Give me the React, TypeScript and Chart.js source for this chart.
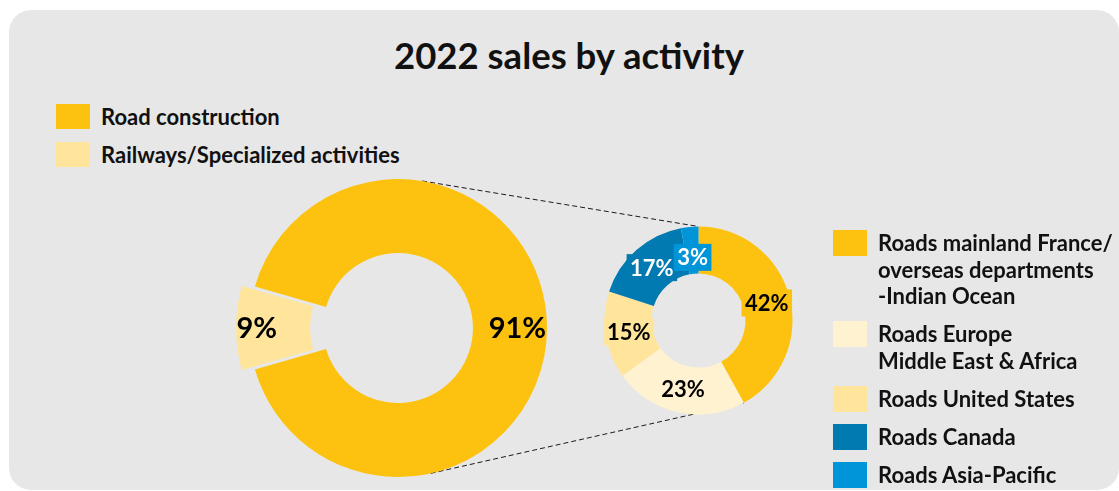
import React, { useEffect, useRef } from 'react';
import { Chart, registerables } from 'chart.js';

Chart.register(...registerables);

const PAGE_W = 1119;
const PAGE_H = 491;
const FONT = 'Lato, "Open Sans", sans-serif';

const chartTitle = '2022 sales by activity';

// Group split
const activityLabels = ['Road construction', 'Railways/Specialized activities'];
const activityShares = [91, 9];
const activityColors = ['#FCC20F', '#FFE59C'];

// Road construction split
const roadLabels = [
  'Roads mainland France/\noverseas departments\n-Indian Ocean',
  'Roads Europe\nMiddle East & Africa',
  'Roads United States',
  'Roads Canada',
  'Roads Asia-Pacific',
];
const roadShares = [42, 23, 15, 17, 3];
const roadColors = ['#FCC20F', '#FFF2D0', '#FFE59C', '#007AB0', '#0094D8'];
const roadTextColors = ['#000', '#000', '#000', '#fff', '#fff'];

// Actual translation Chart.js applies for an arc "offset"
const arcShift = (offset: number, circumference: number) =>
  (offset / 4) * (1 + 1 - Math.sin(Math.min(Math.PI, circumference)));

const makeLabelPlugin = (
  id: string,
  radial: number[],
  textColors: string[],
  fontPx: number,
  boxed: boolean
) => ({
  id,
  afterDatasetsDraw(chart: any) {
    const ctx = chart.ctx;
    const meta = chart.getDatasetMeta(0);
    const ds = chart.data.datasets[0];
    ctx.save();
    ctx.font = `bold ${fontPx}px ${FONT}`;
    ctx.textAlign = 'center';
    ctx.textBaseline = 'middle';
    meta.data.forEach((arc: any, i: number) => {
      const p = arc.getProps(
        ['x', 'y', 'startAngle', 'endAngle', 'innerRadius', 'outerRadius', 'circumference'],
        true
      );
      const mid = (p.startAngle + p.endAngle) / 2;
      const shift = arcShift(arc.options.offset || 0, p.circumference);
      const r = p.innerRadius + radial[i] * (p.outerRadius - p.innerRadius) + shift;
      const lx = p.x + Math.cos(mid) * r;
      const ly = p.y + Math.sin(mid) * r;
      const text = `${ds.data[i]}%`;
      if (boxed) {
        const w = ctx.measureText(text).width + 7;
        ctx.fillStyle = ds.backgroundColor[i];
        ctx.fillRect(lx - w / 2, ly - 13.5, w, 27);
      }
      ctx.fillStyle = textColors[i];
      ctx.fillText(text, lx, ly + 1);
    });
    ctx.restore();
  },
});

// Tangent point on a circle (c, r) seen from point (px, py); side -1 or +1
const tangentPoint = (cx: number, cy: number, r: number, px: number, py: number, side: number) => {
  const dx = px - cx;
  const dy = py - cy;
  const d = Math.hypot(dx, dy);
  const phi = Math.atan2(dy, dx);
  const a = Math.acos(Math.min(1, r / d));
  const t = phi + side * a;
  return [cx + Math.cos(t) * r, cy + Math.sin(t) * r];
};

const LegendBox = ({ color, label, lineH, boxH }: { color: string; label: string; lineH: number; boxH: number }) => (
  <div style={{ display: 'flex', alignItems: 'flex-start' }}>
    <div style={{ width: 34, height: boxH, background: color, flex: '0 0 auto', marginTop: (lineH - boxH) / 2 }} />
    <div style={{ marginLeft: 11, whiteSpace: 'pre-line', lineHeight: `${lineH}px` }}>{label}</div>
  </div>
);

export default function App() {
  const bigRef = useRef<HTMLCanvasElement>(null);
  const smallRef = useRef<HTMLCanvasElement>(null);

  useEffect(() => {
    const small = new Chart(smallRef.current!, {
      type: 'doughnut',
      data: {
        labels: roadLabels,
        datasets: [{ data: roadShares, backgroundColor: roadColors, borderWidth: 0 }],
      },
      options: {
        responsive: false,
        animation: false,
        events: [],
        radius: 94,
        cutout: '50%',
        rotation: 0,
        layout: { padding: { left: 599, right: 321, top: 220.5, bottom: 70.5 } },
        plugins: { legend: { display: false }, tooltip: { enabled: false }, title: { display: false } },
      },
      plugins: [makeLabelPlugin('roadLabels', [0.5, 0.5, 0.5, 0.5, 0.35], roadTextColors, 22, true)],
    });

    const total = activityShares.reduce((a, b) => a + b, 0);
    // Second slice centred on the left side
    const rotation = 270 - (360 * (activityShares[0] + activityShares[1] / 2)) / total;

    const connectors = {
      id: 'connectors',
      beforeDatasetsDraw(chart: any) {
        const big = chart.getDatasetMeta(0).data[0].getProps(['x', 'y', 'outerRadius'], true);
        const s = small.getDatasetMeta(0).data[0].getProps(
          ['x', 'y', 'startAngle', 'endAngle', 'outerRadius'],
          true
        );
        const ends = [
          [s.startAngle, -1],
          [s.endAngle, 1],
        ];
        const ctx = chart.ctx;
        ctx.save();
        ctx.strokeStyle = '#1a1a1a';
        ctx.lineWidth = 1;
        ctx.setLineDash([5, 3]);
        ends.forEach(([ang, side]) => {
          const px = s.x + Math.cos(ang) * s.outerRadius;
          const py = s.y + Math.sin(ang) * s.outerRadius;
          const [tx, ty] = tangentPoint(big.x, big.y, big.outerRadius, px, py, side);
          ctx.beginPath();
          ctx.moveTo(tx, ty);
          ctx.lineTo(px, py);
          ctx.stroke();
        });
        ctx.restore();
      },
    };

    const bigChart = new Chart(bigRef.current!, {
      type: 'doughnut',
      data: {
        labels: activityLabels,
        datasets: [
          {
            data: activityShares,
            backgroundColor: activityColors,
            borderWidth: 0,
            offset: [0, 35.5],
          },
        ],
      },
      options: {
        responsive: false,
        animation: false,
        events: [],
        radius: 149,
        cutout: '50.3%',
        rotation,
        layout: { padding: { left: 238, right: 561, top: 168, bottom: 3 } },
        plugins: { legend: { display: false }, tooltip: { enabled: false }, title: { display: false } },
      },
      plugins: [connectors, makeLabelPlugin('activityLabels', [0.6, 0.72], ['#000', '#000'], 29, false)],
    });

    return () => {
      bigChart.destroy();
      small.destroy();
    };
  }, []);

  const layer: React.CSSProperties = { position: 'absolute', left: 0, top: 0 };

  return (
    <div
      style={{
        position: 'absolute',
        left: 0,
        top: 0,
        width: PAGE_W,
        height: PAGE_H,
        background: '#fff',
        overflow: 'hidden',
        fontFamily: FONT,
        fontWeight: 700,
        color: '#111',
      }}
    >
      <div
        style={{
          position: 'absolute',
          left: 9,
          top: 10,
          width: 1110,
          height: 480,
          background: '#E7E7E7',
          borderRadius: 22,
        }}
      />
      <div
        style={{
          position: 'absolute',
          left: 9,
          width: 1120,
          top: 31,
          textAlign: 'center',
          fontSize: 36.5,
          lineHeight: '48px',
        }}
      >
        {chartTitle}
      </div>
      <div style={{ position: 'absolute', left: 56, top: 104, fontSize: 22 }}>
        {activityLabels.map((l, i) => (
          <div key={l} style={{ marginBottom: 13 }}>
            <LegendBox color={activityColors[i]} label={l} lineH={25} boxH={25} />
          </div>
        ))}
      </div>
      <canvas ref={bigRef} width={PAGE_W} height={PAGE_H} style={layer} />
      <canvas ref={smallRef} width={PAGE_W} height={PAGE_H} style={layer} />
      <div style={{ position: 'absolute', left: 833, top: 230, fontSize: 22 }}>
        {roadLabels.map((l, i) => (
          <div key={l} style={{ marginBottom: 11.5 }}>
            <LegendBox color={roadColors[i]} label={l} lineH={26.5} boxH={26} />
          </div>
        ))}
      </div>
    </div>
  );
}
